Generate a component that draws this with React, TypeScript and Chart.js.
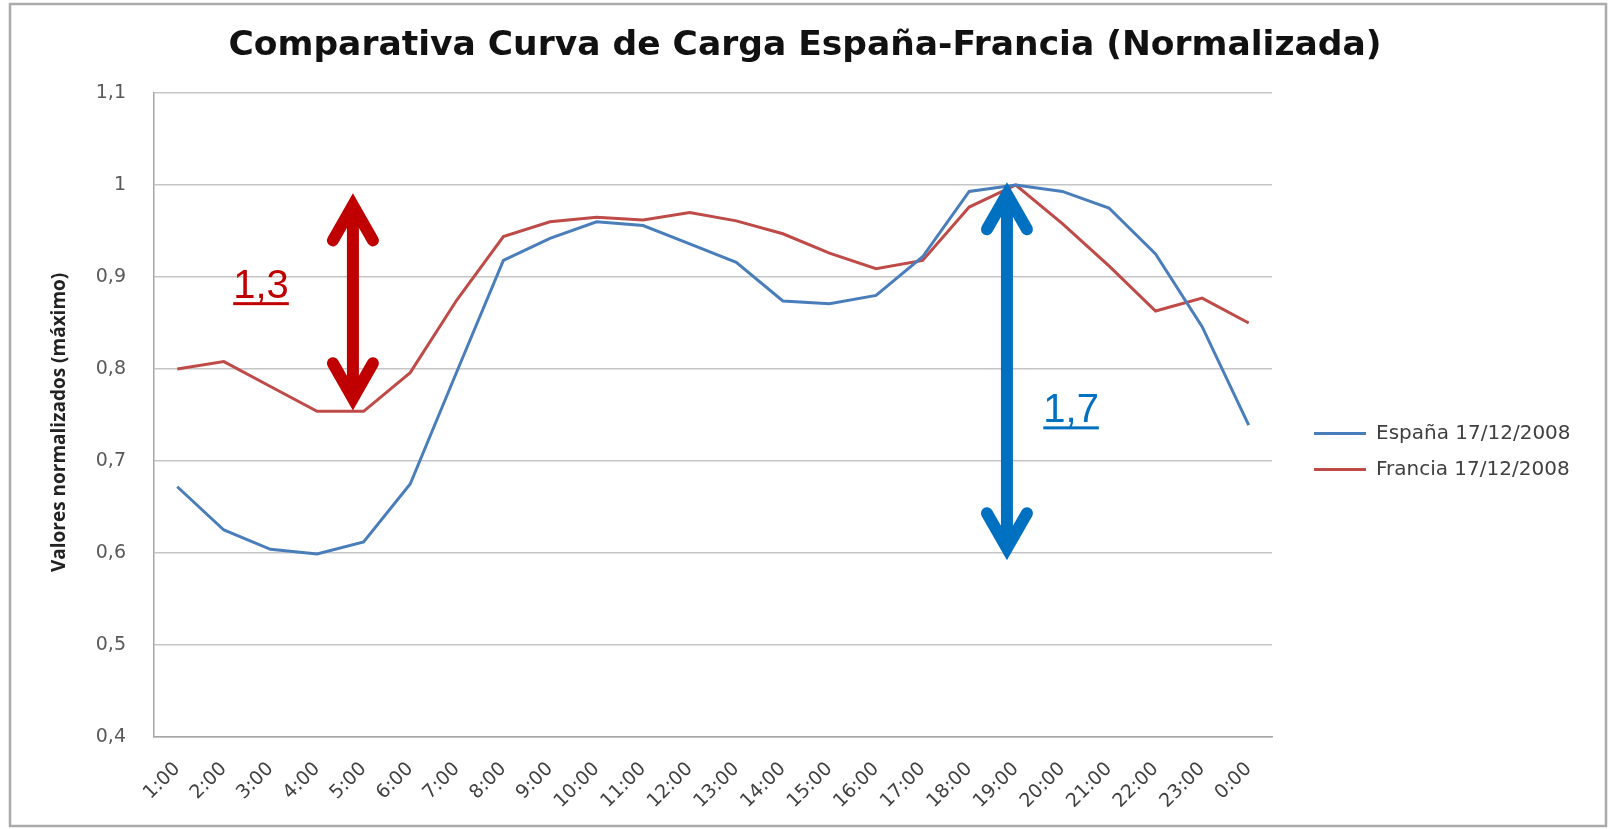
import React, { useEffect, useRef } from 'react';
import { Chart, registerables } from 'chart.js';

Chart.register(...registerables);

// ---- data ----
const hours = ['1:00', '2:00', '3:00', '4:00', '5:00', '6:00', '7:00', '8:00', '9:00', '10:00', '11:00', '12:00',
  '13:00', '14:00', '15:00', '16:00', '17:00', '18:00', '19:00', '20:00', '21:00', '22:00', '23:00', '0:00'];
const espana = [0.672, 0.625, 0.604, 0.599, 0.612, 0.675, 0.797, 0.918, 0.942, 0.960, 0.956, 0.936,
  0.916, 0.874, 0.871, 0.880, 0.922, 0.993, 1.0, 0.993, 0.975, 0.925, 0.846, 0.739];
const francia = [0.800, 0.808, 0.781, 0.754, 0.754, 0.796, 0.875, 0.944, 0.960, 0.965, 0.962, 0.970,
  0.961, 0.947, 0.926, 0.909, 0.918, 0.976, 1.0, 0.958, 0.912, 0.863, 0.877, 0.850];
const seriesNames = ['España 17/12/2008', 'Francia 17/12/2008'];
const yTickValues = [0.4, 0.5, 0.6, 0.7, 0.8, 0.9, 1.0, 1.1];
const yTickLabels = ['0,4', '0,5', '0,6', '0,7', '0,8', '0,9', '1', '1,1'];
const chartTitle = 'Comparativa Curva de Carga España-Francia (Normalizada)';
const yAxisTitle = 'Valores normalizados (máximo)   ';

// annotation arrows (in data space: category index / value)
const arrowLabels = ['1,3', '1,7'];
const arrowX = [3.77, 17.81];
const arrowTop = [0.991, 1.003];
const arrowBottom = [0.755, 0.592];
const arrowLabelX = [1.2, 18.59];
const arrowLabelY = [0.877, 0.742];
const arrowColors = ['#C00000', '#0070C0'];

const arrowPlugin = {
  id: 'arrows',
  afterDatasetsDraw(chart: any) {
    const ctx = chart.ctx;
    const xs = chart.scales.x;
    const ys = chart.scales.y;
    const w = 12;
    const hdx = 20;
    const hdy = 35;
    const ext = (w / 2) / Math.sin(Math.atan(hdx / hdy));
    for (let i = 0; i < arrowLabels.length; i++) {
      const x = xs.getPixelForValue(arrowX[i]);
      const top = ys.getPixelForValue(arrowTop[i]) + ext;
      const bot = ys.getPixelForValue(arrowBottom[i]) - ext;
      ctx.save();
      ctx.strokeStyle = arrowColors[i];
      ctx.fillStyle = arrowColors[i];
      ctx.lineWidth = w;
      ctx.lineCap = 'butt';
      ctx.beginPath();
      ctx.moveTo(x, top + 4);
      ctx.lineTo(x, bot - 4);
      ctx.stroke();
      ctx.lineCap = 'round';
      ctx.lineJoin = 'miter';
      ctx.miterLimit = 10;
      ctx.beginPath();
      ctx.moveTo(x - hdx, top + hdy);
      ctx.lineTo(x, top);
      ctx.lineTo(x + hdx, top + hdy);
      ctx.stroke();
      ctx.beginPath();
      ctx.moveTo(x - hdx, bot - hdy);
      ctx.lineTo(x, bot);
      ctx.lineTo(x + hdx, bot - hdy);
      ctx.stroke();
      // label
      const lx = xs.getPixelForValue(arrowLabelX[i]);
      const ly = ys.getPixelForValue(arrowLabelY[i]);
      ctx.font = '40px "Liberation Sans", Arial, sans-serif';
      ctx.textAlign = 'left';
      ctx.textBaseline = 'alphabetic';
      ctx.fillText(arrowLabels[i], lx, ly);
      const tw = ctx.measureText(arrowLabels[i]).width;
      ctx.fillRect(lx, ly + 4, tw, 3);
      ctx.restore();
    }
  },
};

const borderPlugin = {
  id: 'outerBorder',
  afterDraw(chart: any) {
    const ctx = chart.ctx;
    ctx.save();
    ctx.strokeStyle = '#ABABAB';
    ctx.lineWidth = 2.5;
    ctx.strokeRect(10, 4, 1596, 822);
    ctx.restore();
  },
};

const tickFont = '"DejaVu Sans", sans-serif';
const legendFontSize = 20;
const legendPad = 16;
const legendLineW = 52;

export default function App() {
  const ref = useRef<HTMLCanvasElement>(null);
  useEffect(() => {
    document.body.style.margin = '0';
    // legend width as Chart.js computes it, so the legend starts where wanted
    const mctx = document.createElement('canvas').getContext('2d') as CanvasRenderingContext2D;
    mctx.font = `${legendFontSize}px ${tickFont}`;
    const textW = Math.max(...seriesNames.map((s) => mctx.measureText(s).width));
    const legendW = legendPad + legendLineW + legendFontSize / 2 + textW + 10;
    const legendLeft = 1314 - legendPad;
    const padSide = Math.min(40, Math.max(0, 1610 - legendLeft - legendW));

    const chart = new Chart(ref.current as HTMLCanvasElement, {
      type: 'line',
      data: {
        labels: hours,
        datasets: [
          { label: seriesNames[0], data: espana, borderColor: '#4A7EBB', backgroundColor: '#4A7EBB', borderWidth: 3, pointRadius: 0, tension: 0 },
          { label: seriesNames[1], data: francia, borderColor: '#BE4B48', backgroundColor: '#BE4B48', borderWidth: 3, pointRadius: 0, tension: 0 },
        ],
      },
      options: {
        responsive: false,
        animation: false,
        devicePixelRatio: 1,
        layout: { padding: { left: padSide, top: 0, right: padSide, bottom: 20 } },
        plugins: {
          title: {
            display: true,
            text: chartTitle,
            color: '#111111',
            font: { family: '"DejaVu Sans", sans-serif', size: 34.5, weight: 'bold', lineHeight: 1.2 },
            padding: { top: 25.3, bottom: 26.3 },
          },
          legend: {
            position: 'right',
            align: 'center',
            title: {
              display: true,
              text: ' ',
              font: { size: 10, lineHeight: 1 },
              padding: { top: 0, bottom: 84 },
            },
            labels: {
              usePointStyle: true,
              pointStyle: 'line',
              pointStyleWidth: legendLineW,
              padding: legendPad,
              color: '#404040',
              font: { family: tickFont, size: legendFontSize },
            },
          },
          tooltip: { enabled: false },
        },
        scales: {
          x: {
            offset: true,
            grid: { display: false, drawTicks: false },
            border: { display: true, color: '#A6A6A6', width: 1.5 },
            ticks: {
              autoSkip: false,
              maxRotation: 45,
              minRotation: 45,
              padding: 21,
              color: '#404040',
              font: { family: tickFont, size: 19 },
            },
            afterFit(s: any) { s.height = 72; },
          },
          y: {
            min: 0.4,
            max: 1.1,
            afterBuildTicks(s: any) { s.ticks = yTickValues.map((v) => ({ value: v })); },
            grid: { color: '#C6C6C6', lineWidth: 1.5, drawTicks: false },
            border: { display: true, color: '#A6A6A6', width: 1.5 },
            ticks: {
              padding: 28,
              color: '#595959',
              font: { family: tickFont, size: 19 },
              callback: (_v: any, i: number) => yTickLabels[i],
            },
            title: {
              display: true,
              text: yAxisTitle,
              color: '#222222',
              font: { family: '"Liberation Sans Narrow", "Open Sans", sans-serif', size: 19, weight: 'bold', lineHeight: 1.2 },
              padding: { top: 48.6 - padSide, bottom: 0 },
            },
            afterFit(s: any) { s.width = 154 - padSide; },
          },
          spacer: {
            type: 'linear',
            position: 'right',
            display: false,
            afterFit(s: any) { s.width = legendLeft - 1272; },
          },
        },
      },
      plugins: [arrowPlugin, borderPlugin],
    } as any);
    return () => chart.destroy();
  }, []);
  return (
    <div style={{ position: 'absolute', left: 0, top: 0, width: 1610, height: 829 }}>
      <canvas ref={ref} width={1610} height={829} style={{ width: 1610, height: 829 }} />
    </div>
  );
}
